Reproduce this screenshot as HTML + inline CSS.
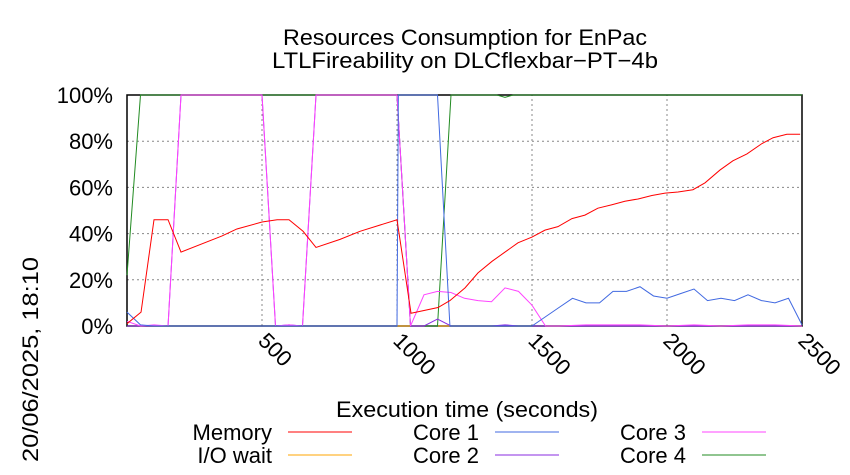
<!DOCTYPE html>
<html><head><meta charset="utf-8"><style>body{margin:0;background:#fff}svg{display:block;font-family:"Liberation Sans",sans-serif}</style></head>
<body>
<svg id="chart" width="850" height="475" viewBox="0 0 850 475" xmlns="http://www.w3.org/2000/svg">
<text x="465" y="45" font-size="22" text-anchor="middle" textLength="364" lengthAdjust="spacingAndGlyphs">Resources Consumption for EnPac</text>
<text x="465" y="68" font-size="22" text-anchor="middle" textLength="386" lengthAdjust="spacingAndGlyphs">LTLFireability on DLCflexbar−PT−4b</text>
<text transform="translate(38,462) rotate(-90)" font-size="22" textLength="205" lengthAdjust="spacingAndGlyphs">20/06/2025, 18:10</text>
<text x="467" y="417" font-size="22" text-anchor="middle" textLength="262" lengthAdjust="spacingAndGlyphs">Execution time (seconds)</text>
<g id="grid"></g><g id="axes"></g><g id="series"></g><g id="legend"></g>
</svg>
<script>
const xTicks=[500,1000,1500,2000,2500];
const yTicks=[0,20,40,60,80,100];
const tMem=[0,52,100,152,200,352,407,500,556,600,652,700,789,863,1000,1052,1152,1196,1252,1300,1352,1400,1448,1500,1548,1596,1648,1696,1744,1796,1844,1893,1944,1993,2041,2096,2141,2196,2244,2296,2352,2393,2444,2493];
const vMem=[1,6,46,46,32,39,42,45,46,46,41,34,37.5,41,46,5.5,8,11,16.5,23,28,32,36,38.5,41.5,43,46.5,48,51,52.5,54,55,56.5,57.5,58,59,62,67.5,71.5,74.5,79,81.5,83,83];
const tC1=[0,50,100,1000,1005,1150,1196,1500,1550,1600,1650,1700,1750,1800,1850,1900,1950,2000,2050,2100,2150,2200,2250,2300,2350,2400,2450,2500];
const vC1=[6,0.5,0,0,100,100,0,0,4,8,12,10,10,15,15,17,13,12,14,16,11,12,11,13.5,11,10,12,0.5];
const tC2=[0,50,100,152,200,500,550,600,650,700,1000,1050,1100,1150,1200,1350,1400,1450,1500,2500];
const vC2=[0,0,0,0,100,100,0,0.5,0,100,100,0,0,3,0,0,0.5,0,0,0];
const tC3=[0,50,100,152,200,500,550,600,650,700,1000,1050,1100,1150,1200,1250,1300,1350,1400,1450,1500,1550,1600,1700,1800,1900,2000,2100,2200,2300,2400,2500];
const vC3=[2,0,0.5,0,100,100,0,0.5,0,100,100,0,13.5,15,14.5,12,11,10.5,16.5,15,9,0,0,0.5,0.5,0.5,0,0.5,0,0.5,0.5,0];
const tC4=[0,50,1000,1050,1150,1200,1370,1400,1430,2500];
const vC4=[22,100,100,0,0,100,100,99,100,100];
const tIO=[0,2500];
const vIO=[0,0];
const X0=127,X1=802,Y0=326,Y1=95;
const sx=t=>X0+(X1-X0)*t/2500;
const sy=v=>Y0-(Y0-Y1)*v/100;
const NS="http://www.w3.org/2000/svg";
function mk(tag,attrs,parent){const e=document.createElementNS(NS,tag);for(const k in attrs)e.setAttribute(k,attrs[k]);parent.appendChild(e);return e;}
const grid=document.getElementById('grid'),axes=document.getElementById('axes'),series=document.getElementById('series'),legend=document.getElementById('legend');
yTicks.forEach(v=>{
  if(v>0&&v<100){const l=mk('line',{x1:X0,x2:X1,y1:sy(v),y2:sy(v),stroke:'#888','stroke-dasharray':'2,3','stroke-width':1},grid);
  
  }
  const t=mk('text',{x:113,y:sy(v)+8,'font-size':22,'text-anchor':'end'},axes);t.textContent=v+'%';
  
  
});
xTicks.forEach(v=>{
  if(v<2500){const l=mk('line',{x1:sx(v),x2:sx(v),y1:Y0,y2:Y1,stroke:'#888','stroke-dasharray':'2,3','stroke-width':1},grid);
  
  }
  const t=mk('text',{x:0,y:0,'font-size':22,transform:`translate(${sx(v)-5},${342}) rotate(45)`},axes);t.textContent=v;
  
  
});
const frame=mk('rect',{x:X0,y:Y1,width:X1-X0,height:Y0-Y1,fill:'none',stroke:'#000','stroke-width':1.5},axes);


function draw(ts,vs,color,name){
  const p=mk('polyline',{points:ts.map((t,i)=>sx(t)+','+sy(vs[i])).join(' '),fill:'none',stroke:color,'stroke-width':1},series);
  
  
}
draw(tIO,vIO,'#ffa500','io-wait-line');
draw(tC4,vC4,'#228b22','core-4-line');
draw(tC2,vC2,'#8a2be2','core-2-line');
draw(tC3,vC3,'#ff44ff','core-3-line');
draw(tC1,vC1,'#4169e1','core-1-line');
draw(tMem,vMem,'#ff0000','memory-line');
const leg=[['Memory','#ff0000',272,440],['Core 1','#4169e1',479,440],['Core 3','#ff44ff',686,440],['I/O wait','#ffa500',272,463],['Core 2','#8a2be2',479,463],['Core 4','#228b22',686,463]];
leg.forEach(([n,c,x,y])=>{
  const g=mk('g',{},legend);
  
  
  const t=mk('text',{x:x,y:y,'font-size':22,'text-anchor':'end'},g);t.textContent=n;
  mk('line',{x1:x+16,x2:x+80,y1:y-8,y2:y-8,stroke:c,'stroke-width':1},g);
});
</script>
</body></html>
